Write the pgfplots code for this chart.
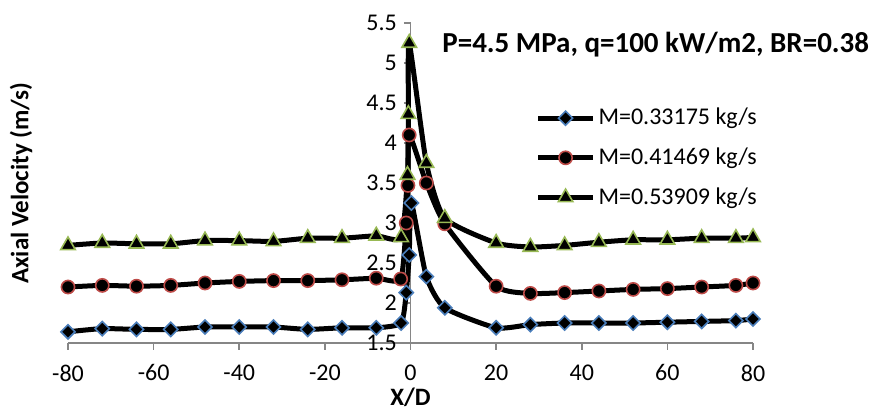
\documentclass[border=0pt]{standalone}
\usepackage{pgfplots}
\pgfplotsset{compat=1.18}
\usepackage{fontspec}
\setmainfont{Carlito}
\definecolor{exblue}{RGB}{74,126,187}
\definecolor{exred}{RGB}{190,75,72}
\definecolor{exgreen}{RGB}{152,185,84}
\definecolor{axgray}{RGB}{134,134,134}
\begin{document}
\begin{tikzpicture}
\useasboundingbox (-34pt,-35pt) rectangle (401pt,171.5pt);
\begin{axis}[
  at={(0pt,0pt)}, anchor=south west,
  scale only axis, width=342.5pt, height=160pt,
  xmin=-80, xmax=80, ymin=1.5, ymax=5.5,
  axis x line*=bottom, axis y line*=center,
  hide obscured x ticks=false, hide obscured y ticks=false,
  axis line style={axgray, line width=0.8pt},
  tick style={axgray, line width=0.8pt},
  tick align=outside, major tick length=3.3pt,
  xtick={-80,-60,...,80}, ytick={1.5,2,...,5.5},
  /pgf/number format/assume math mode=true,
  /pgf/number format/.cd, fixed, precision=1, /pgfplots/.cd,
  ticklabel style={font=\fontsize{12}{14}\selectfont, text=black},
  xticklabel style={inner sep=0pt, yshift=-7.3pt},
  every axis x label/.style={at={(axis cs:0,1.5)}, anchor=center, inner sep=0pt, yshift=-27.3pt, font=\fontsize{12.5}{15}\selectfont\bfseries},
  every axis y label/.style={at={(axis description cs:-0.0686,0.5)}, rotate=90, anchor=center, font=\fontsize{12.5}{15}\selectfont\bfseries},
  xlabel={X/D}, ylabel={Axial Velocity (m/s)},
  legend style={at={(rel axis cs:0.682,0.744)}, anchor=north west, draw=none, fill=none,
    font=\fontsize{12}{14}\selectfont, row sep=7pt, inner sep=0pt,
    nodes={inner sep=1.5pt}},
  legend cell align=left,
  legend image code/.code={\draw[#1, mark repeat=2, mark phase=2] plot coordinates {(0pt,0pt) (13.75pt,0pt) (27.5pt,0pt)};},
  every axis plot/.append style={black, line width=2.5pt, smooth, tension=0.35},
  clip=false,
]
\addplot[mark=square*, mark size=2.5pt, mark options={rotate=45, fill=black, draw=exblue, line width=0.8pt}] coordinates {
(-80,1.64) (-72,1.68) (-64,1.67) (-56,1.67) (-48,1.70) (-40,1.70) (-32,1.70) (-24,1.67) (-16,1.69) (-8,1.69) (-2.2,1.75) (-1,2.13) (-0.3,2.60) (0.2,3.25) (3.7,2.33) (8,1.94) (20,1.69) (28,1.73) (36,1.75) (44,1.75) (52,1.75) (60,1.76) (68,1.77) (76,1.78) (80,1.80)
};
\addlegendentry{M=0.33175 kg/s}
\addplot[mark=*, mark size=3.3pt, mark options={fill=black, draw=exred, line width=0.8pt}] coordinates {
(-80,2.20) (-72,2.22) (-64,2.21) (-56,2.22) (-48,2.25) (-40,2.27) (-32,2.28) (-24,2.28) (-16,2.29) (-8,2.31) (-2.3,2.30) (-1,3.00) (-0.6,3.47) (-0.3,4.10) (3.7,3.50) (8,2.99) (20,2.21) (28,2.12) (36,2.13) (44,2.15) (52,2.17) (60,2.18) (68,2.20) (76,2.22) (80,2.25)
};
\addlegendentry{M=0.41469 kg/s}
\addplot[mark=triangle*, mark size=4.2pt, mark options={fill=black, draw=exgreen, line width=0.8pt}] coordinates {
(-80,2.72) (-72,2.75) (-64,2.74) (-56,2.74) (-48,2.78) (-40,2.78) (-32,2.77) (-24,2.81) (-16,2.81) (-8,2.84) (-2.2,2.82) (-0.7,3.60) (-0.5,4.36) (-0.3,5.25) (3.7,3.75) (8,3.06) (20,2.75) (28,2.70) (36,2.72) (44,2.76) (52,2.79) (60,2.79) (68,2.81) (76,2.81) (80,2.82)
};
\addlegendentry{M=0.53909 kg/s}
\node[font=\fontsize{14.5}{17}\selectfont\bfseries, anchor=center] at (rel axis cs:0.858,0.931) {P=4.5 MPa, q=100 kW/m2, BR=0.38};
\end{axis}
\end{tikzpicture}
\end{document}
